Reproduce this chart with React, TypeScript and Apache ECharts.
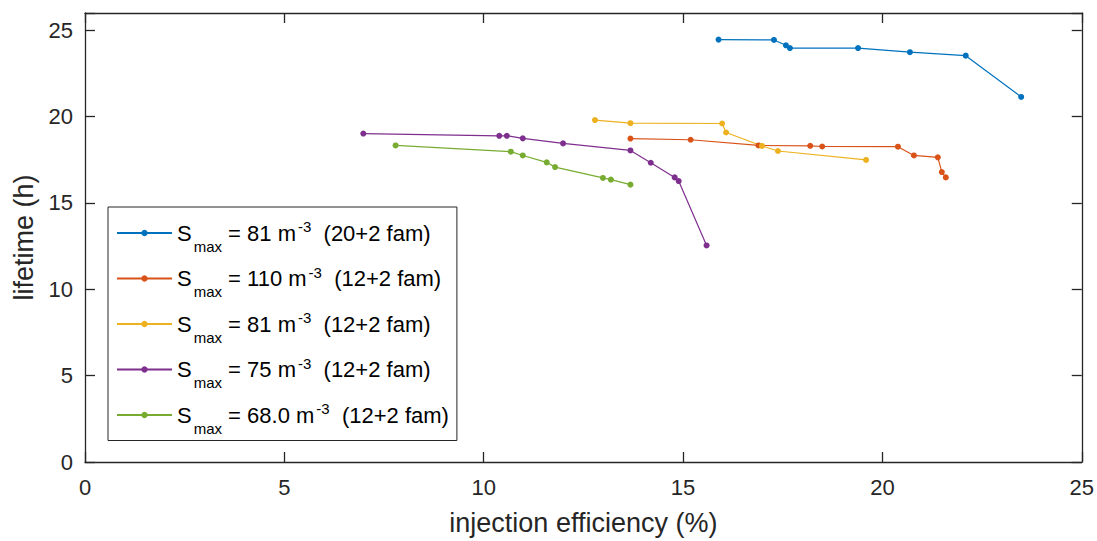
import React, { useEffect, useRef } from "react";
import * as echarts from "echarts";

const xTicks = [0, 5, 10, 15, 20, 25];
const yTicks = [0, 5, 10, 15, 20, 25];

const smaxValues = ["81", "110", "81", "75", "68.0"];
const families = ["20+2", "12+2", "12+2", "12+2", "12+2"];
const colors = ["#0072BD", "#D95319", "#EDB120", "#7E2F8E", "#77AC30"];

const blueX = [15.89, 17.28, 17.58, 17.68, 19.39, 20.69, 22.09, 23.48];
const blueY = [24.46, 24.44, 24.13, 23.97, 23.97, 23.73, 23.53, 21.14];

const orangeX = [13.68, 15.19, 16.89, 18.19, 18.49, 20.39, 20.79, 21.39, 21.49, 21.59];
const orangeY = [18.73, 18.66, 18.33, 18.31, 18.27, 18.26, 17.75, 17.64, 16.79, 16.48];

const yellowX = [12.79, 13.68, 15.98, 16.08, 16.98, 17.38, 19.59];
const yellowY = [19.8, 19.62, 19.6, 19.08, 18.3, 18.01, 17.49];

const purpleX = [6.98, 10.39, 10.58, 10.98, 11.99, 13.68, 14.19, 14.79, 14.89, 15.59];
const purpleY = [19.02, 18.89, 18.89, 18.74, 18.45, 18.04, 17.33, 16.48, 16.27, 12.54];

const greenX = [7.79, 10.68, 10.98, 11.58, 11.79, 12.99, 13.19, 13.68];
const greenY = [18.33, 17.97, 17.75, 17.35, 17.08, 16.45, 16.35, 16.06];

const seriesX = [blueX, orangeX, yellowX, purpleX, greenX];
const seriesY = [blueY, orangeY, yellowY, purpleY, greenY];

const FONT = "Liberation Sans, Arial, sans-serif";
const AX = "#262626";

export default function App() {
  const ref = useRef<HTMLDivElement>(null);
  useEffect(() => {
    if (!ref.current) return;
    const chart = echarts.init(ref.current, null, { renderer: "svg" });
    const names = smaxValues.map((v, i) => `Smax = ${v} m-3 (${families[i]} fam) #${i}`);
    const series = seriesX.map((xs, i) => ({
      name: names[i],
      type: "line",
      data: xs.map((x, j) => [x, seriesY[i][j]]),
      symbol: "circle",
      symbolSize: 6,
      showSymbol: true,
      lineStyle: { width: 1.2, color: colors[i] },
      itemStyle: { color: colors[i] },
      xAxisIndex: 0,
      yAxisIndex: 0,
    }));
    const axisCommon = {
      axisLine: { show: true, onZero: false, lineStyle: { color: AX, width: 1.3 } },
      axisTick: { show: true, inside: true, length: 10, lineStyle: { color: AX, width: 1.3 } },
      splitLine: { show: false },
    };
    chart.setOption({
      animation: false,
      textStyle: { fontFamily: FONT },
      grid: { left: 85, right: 15, top: 13, bottom: 78, containLabel: false },
      legend: {
        orient: "vertical",
        left: 108,
        top: 207,
        data: names,
        itemWidth: 55,
        itemHeight: 8,
        itemGap: 11,
        padding: [12, 8, 5, 8],
        borderColor: AX,
        borderWidth: 1,
        backgroundColor: "#ffffff",
        formatter: (name: string) => {
          const i = names.indexOf(name);
          return `{s|S}{sub|max}{n| = ${smaxValues[i]} m}{sup|-3}{n|  (${families[i]} fam)}`;
        },
        textStyle: {
          fontFamily: FONT,
          color: "#000",
          fontSize: 22,
          rich: {
            s: { fontSize: 22, fontFamily: FONT, color: "#000" },
            n: { fontSize: 22, fontFamily: FONT, color: "#000" },
            sub: { fontSize: 15, fontFamily: FONT, color: "#000", padding: [26, 0, 0, 2] },
            sup: { fontSize: 15, fontFamily: FONT, color: "#000", padding: [0, 0, 13, 2] },
          },
        },
      },
      xAxis: [
        {
          type: "value",
          min: xTicks[0],
          max: xTicks[xTicks.length - 1],
          interval: 5,
          position: "bottom",
          name: "injection efficiency (%)",
          nameLocation: "middle",
          nameGap: 47,
          nameTextStyle: { fontSize: 27, color: AX, fontFamily: FONT },
          axisLabel: { fontSize: 22, color: AX, margin: 14, fontFamily: FONT },
          ...axisCommon,
        },
        {
          type: "value",
          min: xTicks[0],
          max: xTicks[xTicks.length - 1],
          interval: 5,
          position: "top",
          axisLabel: { show: false },
          ...axisCommon,
        },
      ],
      yAxis: [
        {
          type: "value",
          min: yTicks[0],
          max: 26,
          interval: 5,
          position: "left",
          name: "lifetime (h)",
          nameLocation: "middle",
          nameGap: 47,
          nameTextStyle: { fontSize: 27, color: AX, fontFamily: FONT },
          axisLabel: {
            fontSize: 22,
            color: AX,
            margin: 12,
            fontFamily: FONT,
            formatter: (v: number) => (yTicks.includes(v) ? String(v) : ""),
          },
          ...axisCommon,
        },
        {
          type: "value",
          min: yTicks[0],
          max: 26,
          interval: 5,
          position: "right",
          axisLabel: { show: false },
          ...axisCommon,
        },
      ],
      series,
    });
    return () => chart.dispose();
  }, []);
  return <div ref={ref} style={{ width: 1097, height: 541, position: "absolute", left: 0, top: 0, background: "#fff" }} />;
}
